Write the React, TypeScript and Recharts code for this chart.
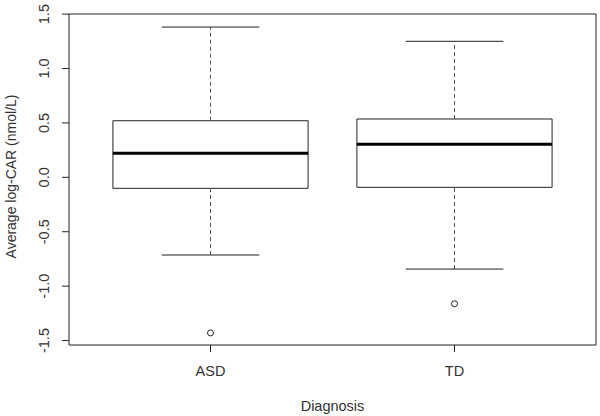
import React from 'react';
import {
  ScatterChart,
  Scatter,
  XAxis,
  YAxis,
  ReferenceArea,
  ReferenceLine,
} from 'recharts';

// box plot stats per diagnosis group
const categories = ['ASD', 'TD'];
const lowerWhisker = [-0.714, -0.843];
const q1 = [-0.101, -0.092];
const median = [0.221, 0.303];
const q3 = [0.52, 0.536];
const upperWhisker = [1.381, 1.25];
const outliers = [[-1.43], [-1.162]];
const yTicks = [-1.5, -1.0, -0.5, 0.0, 0.5, 1.0, 1.5];

const xDomain = [0.42, 2.58];
const yDomain = [-1.541, 1.501];
const boxHalf = 0.4;
const capHalf = 0.2;

const outlierPoints = outliers.flatMap((vals, i) =>
  vals.map((v) => ({ x: i + 1, y: v }))
);

const font = 'Arial, "Liberation Sans", sans-serif';
const fontSize = 14.5;
const textColor = '#333';
const lineColor = '#222';

const YTick = (props: any) => {
  const { y, payload } = props;
  return (
    <text
      x={49}
      y={y}
      transform={`rotate(-90, 49, ${y})`}
      textAnchor='middle'
      fill={textColor}
      fontSize={fontSize}
      fontFamily={font}
    >
      {payload.value.toFixed(1)}
    </text>
  );
};

const YLabel = (props: any) => {
  const { viewBox } = props;
  const cy = viewBox.y + viewBox.height / 2 - 3;
  return (
    <text
      x={16}
      y={cy}
      transform={`rotate(-90, 16, ${cy})`}
      textAnchor='middle'
      fill={textColor}
      fontSize={14}
      fontFamily={font}
    >
      Average log-CAR (nmol/L)
    </text>
  );
};

const Outlier = (props: any) => (
  <circle cx={props.cx} cy={props.cy} r={3} fill='none' stroke={lineColor} strokeWidth={1} />
);

export default function App() {
  return (
    <div style={{ position: 'absolute', left: 0, top: 0, background: '#fff' }}>
      <ScatterChart
        width={600}
        height={416}
        margin={{ top: 14, right: 4, bottom: 0, left: 0 }}
      >
        <XAxis
          type='number'
          dataKey='x'
          domain={xDomain}
          ticks={[1, 2]}
          tickFormatter={(v) => categories[v - 1]}
          allowDataOverflow
          axisLine={false}
          tickLine={{ stroke: lineColor }}
          tickSize={7}
          tickMargin={14}
          height={71}
          tick={{ fill: textColor, fontSize, fontFamily: font }}
          label={{
            value: 'Diagnosis',
            position: 'insideBottom',
            offset: 5.5,
            fill: textColor,
            fontSize,
            fontFamily: font,
          }}
        />
        <YAxis
          type='number'
          dataKey='y'
          domain={yDomain}
          ticks={yTicks}
          allowDataOverflow
          axisLine={false}
          tickLine={{ stroke: lineColor }}
          tickSize={7}
          width={69}
          tick={<YTick />}
          label={<YLabel />}
        />
        {/* plot frame */}
        <ReferenceArea
          x1={xDomain[0]}
          x2={xDomain[1]}
          y1={yDomain[0]}
          y2={yDomain[1]}
          fill='none'
          stroke={lineColor}
          strokeWidth={1}
        />
        {categories.map((c, i) => {
          const x = i + 1;
          return (
            <React.Fragment key={c}>
              <ReferenceLine
                segment={[{ x, y: q3[i] }, { x, y: upperWhisker[i] }]}
                stroke='#555'
                strokeDasharray='4 3'
              />
              <ReferenceLine
                segment={[{ x, y: lowerWhisker[i] }, { x, y: q1[i] }]}
                stroke='#555'
                strokeDasharray='4 3'
              />
              <ReferenceLine
                segment={[{ x: x - capHalf, y: upperWhisker[i] }, { x: x + capHalf, y: upperWhisker[i] }]}
                stroke={lineColor}
              />
              <ReferenceLine
                segment={[{ x: x - capHalf, y: lowerWhisker[i] }, { x: x + capHalf, y: lowerWhisker[i] }]}
                stroke={lineColor}
              />
              <ReferenceArea
                x1={x - boxHalf}
                x2={x + boxHalf}
                y1={q1[i]}
                y2={q3[i]}
                fill='#fff'
                fillOpacity={1}
                stroke={lineColor}
                strokeWidth={1}
              />
              <ReferenceLine
                segment={[{ x: x - boxHalf, y: median[i] }, { x: x + boxHalf, y: median[i] }]}
                stroke='#000'
                strokeWidth={3}
              />
            </React.Fragment>
          );
        })}
        <Scatter data={outlierPoints} shape={<Outlier />} isAnimationActive={false} />
      </ScatterChart>
    </div>
  );
}
